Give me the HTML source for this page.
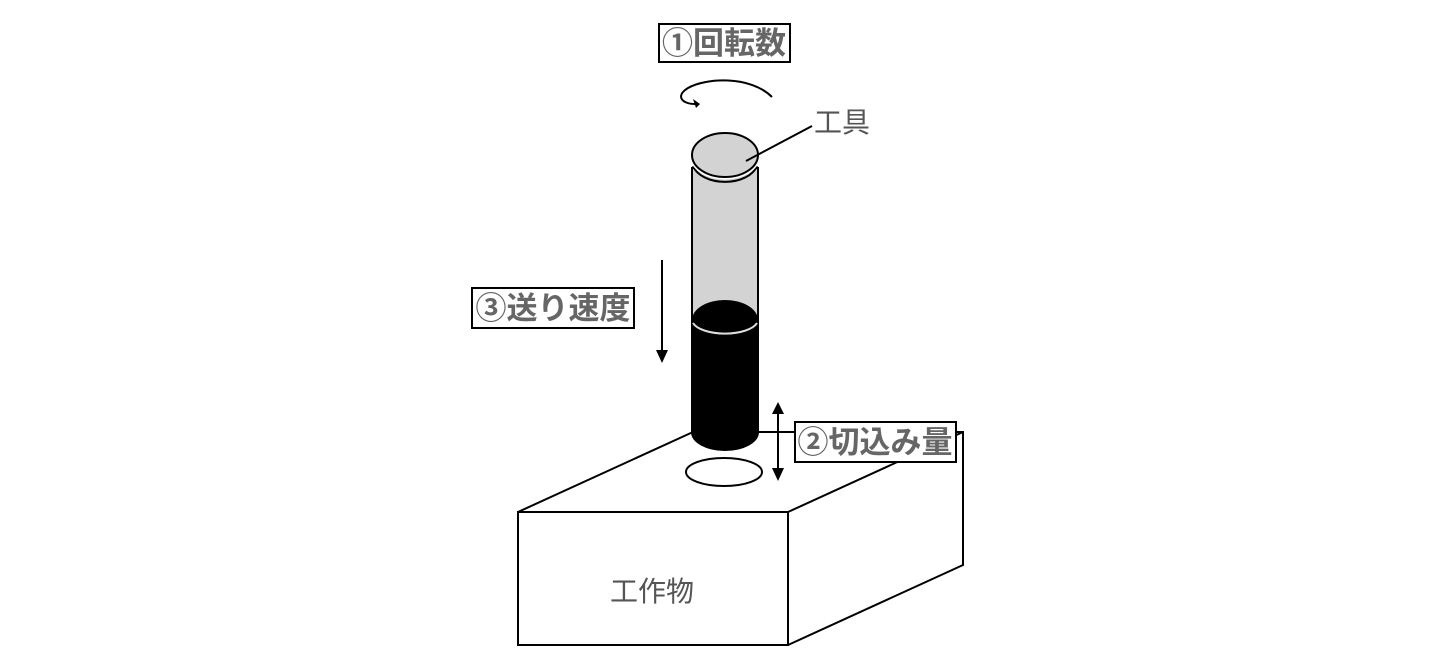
<!DOCTYPE html>
<html><head><meta charset="utf-8"><style>
html,body{margin:0;padding:0;background:#fff;}
svg{display:block;}
.lb{font-family:"Liberation Sans","Noto Sans CJK JP",sans-serif;font-weight:bold;fill:#666;font-size:31px;}
.nm{font-family:"Liberation Sans","Noto Sans CJK JP",sans-serif;fill:#555;font-size:28px;}
</style></head><body>
<svg width="1456" height="662" viewBox="0 0 1456 662" xmlns="http://www.w3.org/2000/svg">
<g fill="none" stroke="#000" stroke-width="2">
<rect x="518" y="512" width="270" height="133" fill="#fff"/>
<path d="M518,512 L693,432 M758,432 L963,432 L963,565 L788,645 M788,512 L963,432"/>
</g>
<text x="652" y="601" class="nm" text-anchor="middle">工作物</text>
<rect x="692" y="168" width="66" height="157" fill="#d3d3d3" stroke="#000" stroke-width="2"/>
<path d="M692,320 L692,432 A33,18 0 0 0 758,432 L758,320 Z" fill="#000" stroke="#000" stroke-width="2"/>
<ellipse cx="725" cy="320" rx="33" ry="20" fill="#000"/>
<path d="M693,323 A33,14 0 0 0 757,323" fill="none" stroke="#ddd" stroke-width="2"/>
<path d="M693,166 A33,21 0 0 0 757,166" fill="#d3d3d3" stroke="#000" stroke-width="2"/>
<ellipse cx="725" cy="155" rx="33" ry="22" fill="#d3d3d3" stroke="#fff" stroke-width="5"/>
<ellipse cx="725" cy="155" rx="33" ry="22" fill="#d3d3d3" stroke="#000" stroke-width="2"/>
<ellipse cx="724" cy="472" rx="38" ry="14" fill="#fff" stroke="#000" stroke-width="2"/>
<line x1="746" y1="161" x2="812" y2="126" stroke="#000" stroke-width="2"/>
<text x="814" y="132" class="nm">工具</text>
<path d="M772,97 C750,75 705,78 688,88 C675,96 682,104 695,104" fill="none" stroke="#000" stroke-width="2"/>
<path d="M693,99 L700,104 L696,108 Z" fill="#000"/>
<line x1="662" y1="260" x2="662" y2="350" stroke="#000" stroke-width="2"/>
<path d="M656,350 L668,350 L662,363 Z" fill="#000"/>
<line x1="778" y1="412" x2="778" y2="470" stroke="#000" stroke-width="2"/>
<path d="M772,414 L784,414 L778,402 Z M772,468 L784,468 L778,481 Z" fill="#000"/>
<rect x="659" y="24" width="131" height="38" fill="#fff" stroke="#000" stroke-width="2"/>
<text x="724" y="54" class="lb" text-anchor="middle">①回転数</text>
<rect x="472" y="288" width="162" height="40" fill="#fff" stroke="#000" stroke-width="2"/>
<text x="553" y="319" class="lb" text-anchor="middle">③送り速度</text>
<rect x="795" y="422" width="161" height="40" fill="#fff" stroke="#000" stroke-width="2"/>
<text x="875" y="453" class="lb" text-anchor="middle">②切込み量</text>
</svg>
</body></html>
